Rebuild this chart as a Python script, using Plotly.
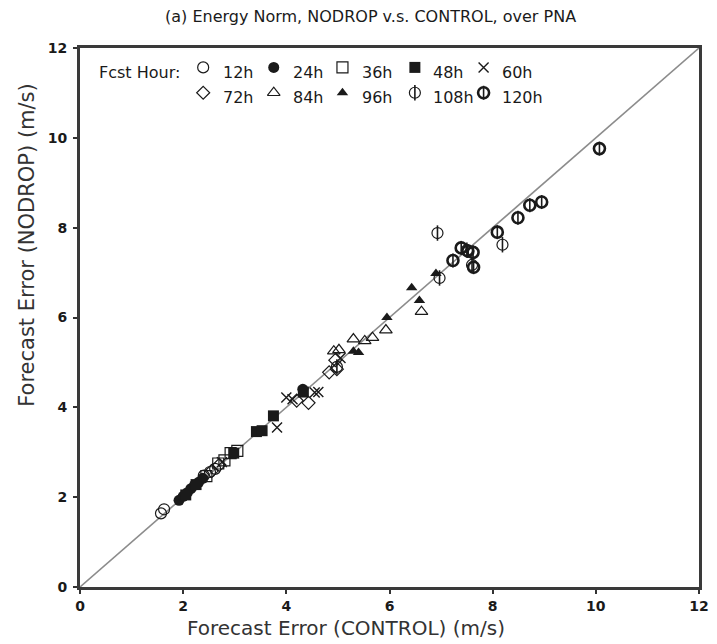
import plotly.graph_objects as go

# ---------------- data ----------------
AXIS_MAX = 12
tick_values = [0, 2, 4, 6, 8, 10, 12]

hours = ["12h", "24h", "36h", "48h", "60h", "72h", "84h", "96h", "108h", "120h"]

ctl_12 = [1.57, 1.63, 2.40, 2.52, 2.62]
ndp_12 = [1.64, 1.73, 2.48, 2.56, 2.63]

ctl_24 = [1.92, 2.00, 2.08, 2.15, 2.22, 2.30, 2.38, 4.32]
ndp_24 = [1.93, 2.02, 2.10, 2.19, 2.27, 2.33, 2.42, 4.40]

ctl_36 = [2.45, 2.68, 2.92, 3.05, 2.80]
ndp_36 = [2.47, 2.75, 2.98, 3.03, 2.82]

ctl_48 = [2.05, 2.25, 2.98, 3.42, 3.53, 3.75, 4.33]
ndp_48 = [2.05, 2.28, 2.98, 3.46, 3.48, 3.81, 4.34]

ctl_60 = [3.82, 4.00, 4.12, 4.55, 4.62, 2.75, 5.05]
ndp_60 = [3.55, 4.22, 4.18, 4.33, 4.34, 2.78, 5.10]

ctl_72 = [2.55, 2.70, 4.20, 4.43, 4.83, 4.98, 4.95]
ndp_72 = [2.58, 2.72, 4.15, 4.10, 4.78, 4.85, 5.05]

ctl_84 = [4.92, 5.30, 5.52, 5.67, 5.93, 6.62, 5.02]
ndp_84 = [5.25, 5.52, 5.48, 5.55, 5.72, 6.13, 5.28]

ctl_96 = [5.30, 5.40, 5.95, 6.43, 6.58, 6.90]
ndp_96 = [5.25, 5.22, 6.00, 6.66, 6.38, 6.98]

ctl_108 = [6.93, 6.97, 7.60, 8.19, 7.50, 4.98]
ndp_108 = [7.88, 6.88, 7.17, 7.62, 7.50, 4.90]

ctl_120 = [7.23, 7.39, 7.52, 7.62, 7.63, 8.09, 8.49, 8.72, 8.95, 10.07]
ndp_120 = [7.27, 7.55, 7.48, 7.45, 7.12, 7.90, 8.22, 8.50, 8.57, 9.76]

series_x = [ctl_12, ctl_24, ctl_36, ctl_48, ctl_60, ctl_72, ctl_84, ctl_96, ctl_108, ctl_120]
series_y = [ndp_12, ndp_24, ndp_36, ndp_48, ndp_60, ndp_72, ndp_84, ndp_96, ndp_108, ndp_120]

# ---------------- styles ----------------
# each style is a list of overlaid marker layers: (symbol, size, line width)
styles = [
    [("circle-open", 11, 1.2)],
    [("circle", 11, 0)],
    [("square-open", 11, 1.2)],
    [("square", 11, 0)],
    [("x-thin-open", 10, 1.4)],
    [("diamond-open", 10, 1.2)],
    [("triangle-up-open", 11, 1.2)],
    [("triangle-up", 10, 0)],
    [("circle-open", 11, 1.2), ("line-ns-open", 11, 1.6)],
    [("circle-open", 11, 2.6), ("line-ns-open", 10, 1.6)],
]
INK = "#1a1a1a"
FONT = "DejaVu Sans"

fig = go.Figure()

for xs, ys, st in zip(series_x, series_y, styles):
    for sym, size, lw in st:
        fig.add_trace(go.Scatter(
            x=xs, y=ys, mode="markers", showlegend=False,
            marker=dict(symbol=sym, size=size, color=INK,
                        line=dict(color=INK, width=lw)),
            cliponaxis=False))

# 1:1 diagonal
fig.add_shape(type="line", xref="x", yref="y", x0=0, y0=0, x1=AXIS_MAX, y1=AXIS_MAX,
              line=dict(color="#8c8c8c", width=1.6), layer="below")

# ---------------- hand-built legend (layout positions, in overlay axis 0..1) ----------------
leg_sym_x = [0.199, 0.313, 0.424, 0.541, 0.652]
leg_txt_x = [0.228, 0.341, 0.452, 0.567, 0.679]
leg_sym_y = [0.964, 0.917]
leg_txt_y = [0.954, 0.908]

for i, (lab, st) in enumerate(zip(hours, styles)):
    row, col = divmod(i, 5)
    for sym, size, lw in st:
        fig.add_trace(go.Scatter(
            x=[leg_sym_x[col]], y=[leg_sym_y[row]], xaxis="x2", yaxis="y2",
            mode="markers", showlegend=False, hoverinfo="skip",
            marker=dict(symbol=sym, size=size, color=INK,
                        line=dict(color=INK, width=lw))))
    fig.add_annotation(x=leg_txt_x[col], y=leg_txt_y[row], xref="paper", yref="paper",
                       text=lab, showarrow=False, xanchor="left", yanchor="middle",
                       font=dict(family=FONT, size=16, color=INK))

fig.add_annotation(x=0.028, y=0.954, xref="paper", yref="paper", text="Fcst Hour:",
                   showarrow=False, xanchor="left", yanchor="middle",
                   font=dict(family=FONT, size=16, color=INK))

# titles
fig.add_annotation(x=0.469, y=1.058, xref="paper", yref="paper",
                   text="(a) Energy Norm, NODROP v.s. CONTROL, over PNA",
                   showarrow=False, xanchor="center", yanchor="middle",
                   font=dict(family=FONT, size=16, color=INK))
fig.add_annotation(x=0.429, y=-0.076, xref="paper", yref="paper",
                   text="Forecast Error (CONTROL) (m/s)",
                   showarrow=False, xanchor="center", yanchor="middle",
                   font=dict(family=FONT, size=20, color="#333"))
fig.add_annotation(x=-0.086, y=0.6345, xref="paper", yref="paper",
                   text="Forecast Error (NODROP) (m/s)", textangle=-90,
                   showarrow=False, xanchor="center", yanchor="middle",
                   font=dict(family=FONT, size=21, color="#333"))

axis_common = dict(
    range=[0, AXIS_MAX], tickvals=tick_values, ticks="outside", ticklen=4,
    tickwidth=1.5, tickcolor="#333", showgrid=False, zeroline=False,
    showline=True, linecolor="#3a3a3a", linewidth=3, mirror=True,
    tickfont=dict(family=FONT, size=14, color=INK, weight="bold"),
)

fig.update_layout(
    width=717, height=644,
    margin=dict(l=80, r=8, t=48, b=57),
    paper_bgcolor="white", plot_bgcolor="white",
    xaxis=dict(**axis_common, ticklabelstandoff=0),
    yaxis=dict(**axis_common, ticklabelstandoff=3),
    xaxis2=dict(overlaying="x", range=[0, 1], visible=False, fixedrange=True),
    yaxis2=dict(overlaying="y", range=[0, 1], visible=False, fixedrange=True),
    showlegend=False,
)

fig.write_html("out.html")
